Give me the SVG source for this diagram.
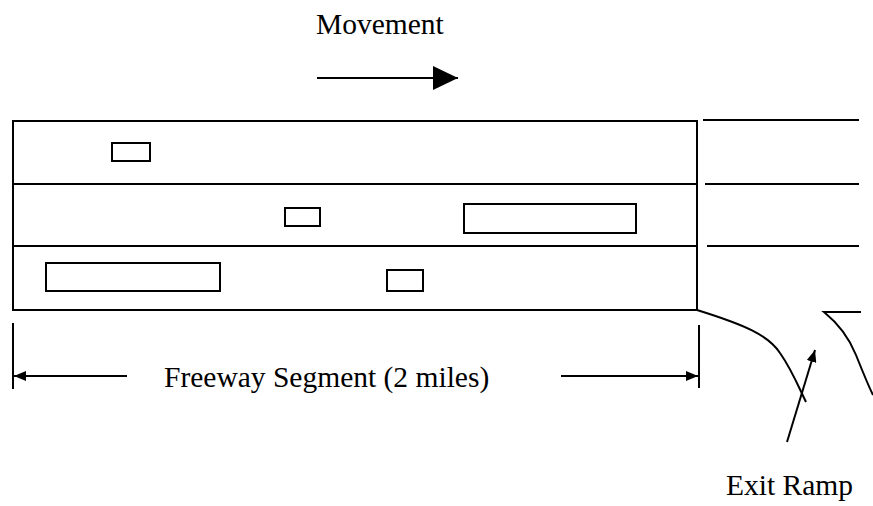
<svg xmlns="http://www.w3.org/2000/svg" width="873" height="506" viewBox="0 0 873 506">
<style>
.ln{stroke:#000;stroke-width:2;fill:none}
.car{stroke:#000;stroke-width:2;fill:#fff}
.t{font-family:"Liberation Serif","Times New Roman",serif;font-size:29.5px;fill:#000}
</style>
<defs>
<marker id="ah" markerWidth="12" markerHeight="10" refX="12" refY="5" orient="auto" markerUnits="userSpaceOnUse">
<path d="M0,0 L12,5 L0,10 Z" fill="#000"/>
</marker>
<marker id="ahBig" markerWidth="25" markerHeight="24" refX="25" refY="12" orient="auto" markerUnits="userSpaceOnUse">
<path d="M0,0 L25,12 L0,24 Z" fill="#000"/>
</marker>
</defs>
<rect width="873" height="506" fill="#fff"/>
<g id="freeway">
<rect class="ln" x="13" y="121" width="684" height="189"/>
<line class="ln" x1="13" y1="184" x2="697" y2="184"/>
<line class="ln" x1="13" y1="246" x2="697" y2="246"/>
</g>
<g id="lanes-beyond">
<line class="ln" x1="703" y1="120" x2="859" y2="120"/>
<line class="ln" x1="705" y1="184" x2="859" y2="184"/>
<line class="ln" x1="707" y1="246" x2="859" y2="246"/>
</g>
<g id="vehicles">
<rect class="car" x="112" y="143" width="38" height="18"/>
<rect class="car" x="285" y="208" width="35" height="18"/>
<rect class="car" x="464" y="204" width="172" height="29"/>
<rect class="car" x="46" y="263" width="174" height="28"/>
<rect class="car" x="387" y="270" width="36" height="21"/>
</g>
<g id="ramp">
<path class="ln" d="M697,310 C745,325 768,335 780,353 C792,370 800,390 806,402"/>
<path class="ln" d="M861,312 L824,312 C840,325 850,340 856,355 C862,370 868,385 873,395"/>
</g>
<g id="connectors">
<line class="ln" x1="317" y1="78" x2="458" y2="78" marker-end="url(#ahBig)"/>
<line class="ln" x1="13" y1="323" x2="13" y2="389"/>
<line class="ln" x1="699" y1="325" x2="699" y2="388"/>
<line class="ln" x1="127" y1="376" x2="14" y2="376" marker-end="url(#ah)"/>
<line class="ln" x1="561" y1="376" x2="698" y2="376" marker-end="url(#ah)"/>
<line class="ln" x1="787" y1="442" x2="815" y2="350" marker-end="url(#ah)"/>
</g>
<g id="labels">
<text class="t" x="316" y="34">Movement</text>
<text class="t" x="164" y="387">Freeway Segment (2 miles)</text>
<text class="t" x="726" y="495">Exit Ramp</text>
</g>
</svg>
